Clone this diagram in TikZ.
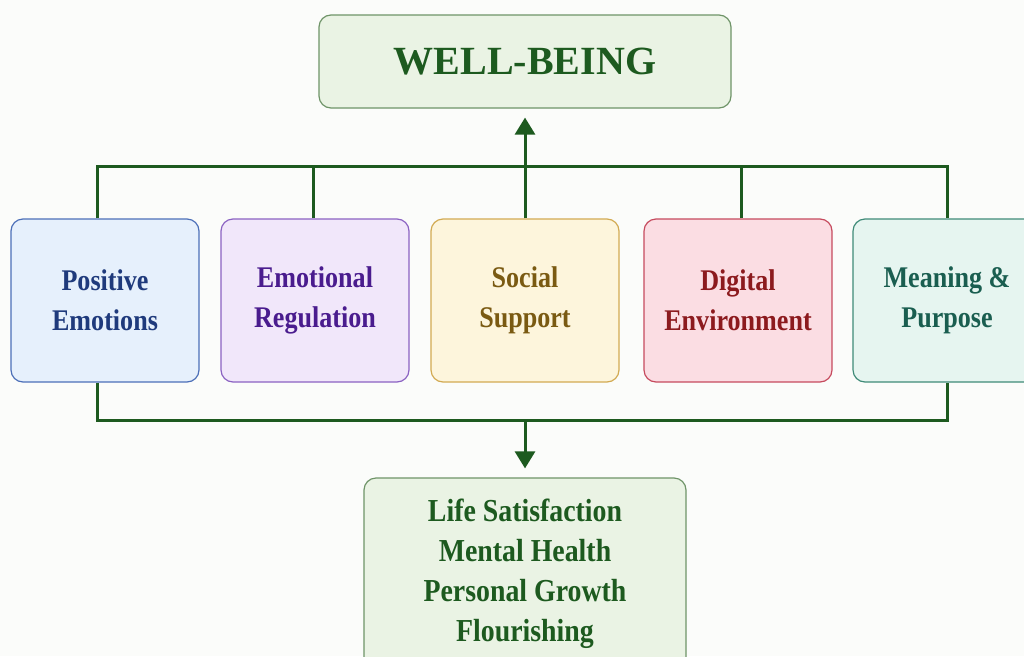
\documentclass[tikz,border=0pt]{standalone}
\usepackage{fontspec}
\setmainfont{Liberation Serif}
\newfontfamily\narrowserif{Liberation Serif}[FakeStretch=0.87]
\usetikzlibrary{arrows.meta}

\definecolor{leaf}{HTML}{1D5A1F}
\definecolor{paper}{HTML}{FBFCFA}
\definecolor{wbfill}{HTML}{EAF3E4}
\definecolor{wbdraw}{HTML}{6F9468}
\definecolor{pefill}{HTML}{E6F0FC}
\definecolor{pedraw}{HTML}{4C6FB8}
\definecolor{petext}{HTML}{1F3A7C}
\definecolor{erfill}{HTML}{F1E7FA}
\definecolor{erdraw}{HTML}{8B62C2}
\definecolor{ertext}{HTML}{4A1C8E}
\definecolor{ssfill}{HTML}{FDF5DC}
\definecolor{ssdraw}{HTML}{D2AA52}
\definecolor{sstext}{HTML}{7A5A12}
\definecolor{defill}{HTML}{FBDDE3}
\definecolor{dedraw}{HTML}{C64B5E}
\definecolor{detext}{HTML}{8C1A1E}
\definecolor{mpfill}{HTML}{E6F5F0}
\definecolor{mpdraw}{HTML}{3F8B78}
\definecolor{mptext}{HTML}{1A5E50}

\begin{document}
\begin{tikzpicture}[x=1pt,y=-1pt,
		factor/.style={draw,rounded corners=12pt,line width=1.2pt,
			minimum width=188pt,minimum height=163pt,align=center,
			font=\narrowserif\bfseries\fontsize{30}{40}\selectfont},
		result/.style={draw=wbdraw,fill=wbfill,rounded corners=12pt,line width=1.2pt,align=center},
		link/.style={draw=leaf,line width=3pt},
		arrow/.style={link,-{Triangle[length=17pt,width=20pt]},shorten >=9pt}]
		\clip (0,0) rectangle (1024,656);
		\fill[paper] (0,0) rectangle (1024,656);
		% outcome on top
		\node[result,minimum width=412pt,minimum height=93pt,
			font=\bfseries\fontsize{40}{48}\selectfont,text=leaf](wb) at (525,61.5){WELL-BEING};
		% the five factors
		\node[factor,fill=pefill,draw=pedraw,text=petext](pe) at (105,300.5){Positive\\Emotions};
		\node[factor,fill=erfill,draw=erdraw,text=ertext](er) at (315,300.5){Emotional\\Regulation};
		\node[factor,fill=ssfill,draw=ssdraw,text=sstext](ss) at (525,300.5){Social\\Support};
		\node[factor,fill=defill,draw=dedraw,text=detext](de) at (738,300.5){Digital\\Environment};
		\node[factor,fill=mpfill,draw=mpdraw,text=mptext](mp) at (947,300.5){Meaning \&\\Purpose};
		% results below
		\node[result,minimum width=322pt,minimum height=192pt,text=leaf,
			font=\narrowserif\bfseries\fontsize{32}{40}\selectfont](out) at (525,574)
			{Life Satisfaction\\Mental Health\\Personal Growth\\Flourishing};
		\coordinate (topbus) at (525,166);
		\coordinate (lowbus) at (525,420);
		\coordinate (pein) at ([xshift=-8pt]pe.north);
		\coordinate (peout) at ([xshift=-8pt]pe.south);
		% connectors
		\draw[link] (pein) |- (topbus) -| (mp.north);
		\draw[link] ([xshift=-2pt]er.north) -- ([xshift=-2pt]er.north |- topbus);
		\draw[link] ([xshift=3pt]de.north) -- ([xshift=3pt]de.north |- topbus);
		\draw[arrow] (ss.north) -- (ss.north |- wb.south);
		\draw[link] (peout) |- (lowbus) -| (mp.south);
		\draw[arrow] (lowbus) -- (lowbus |- out.north);
	\end{tikzpicture}
\end{document}
